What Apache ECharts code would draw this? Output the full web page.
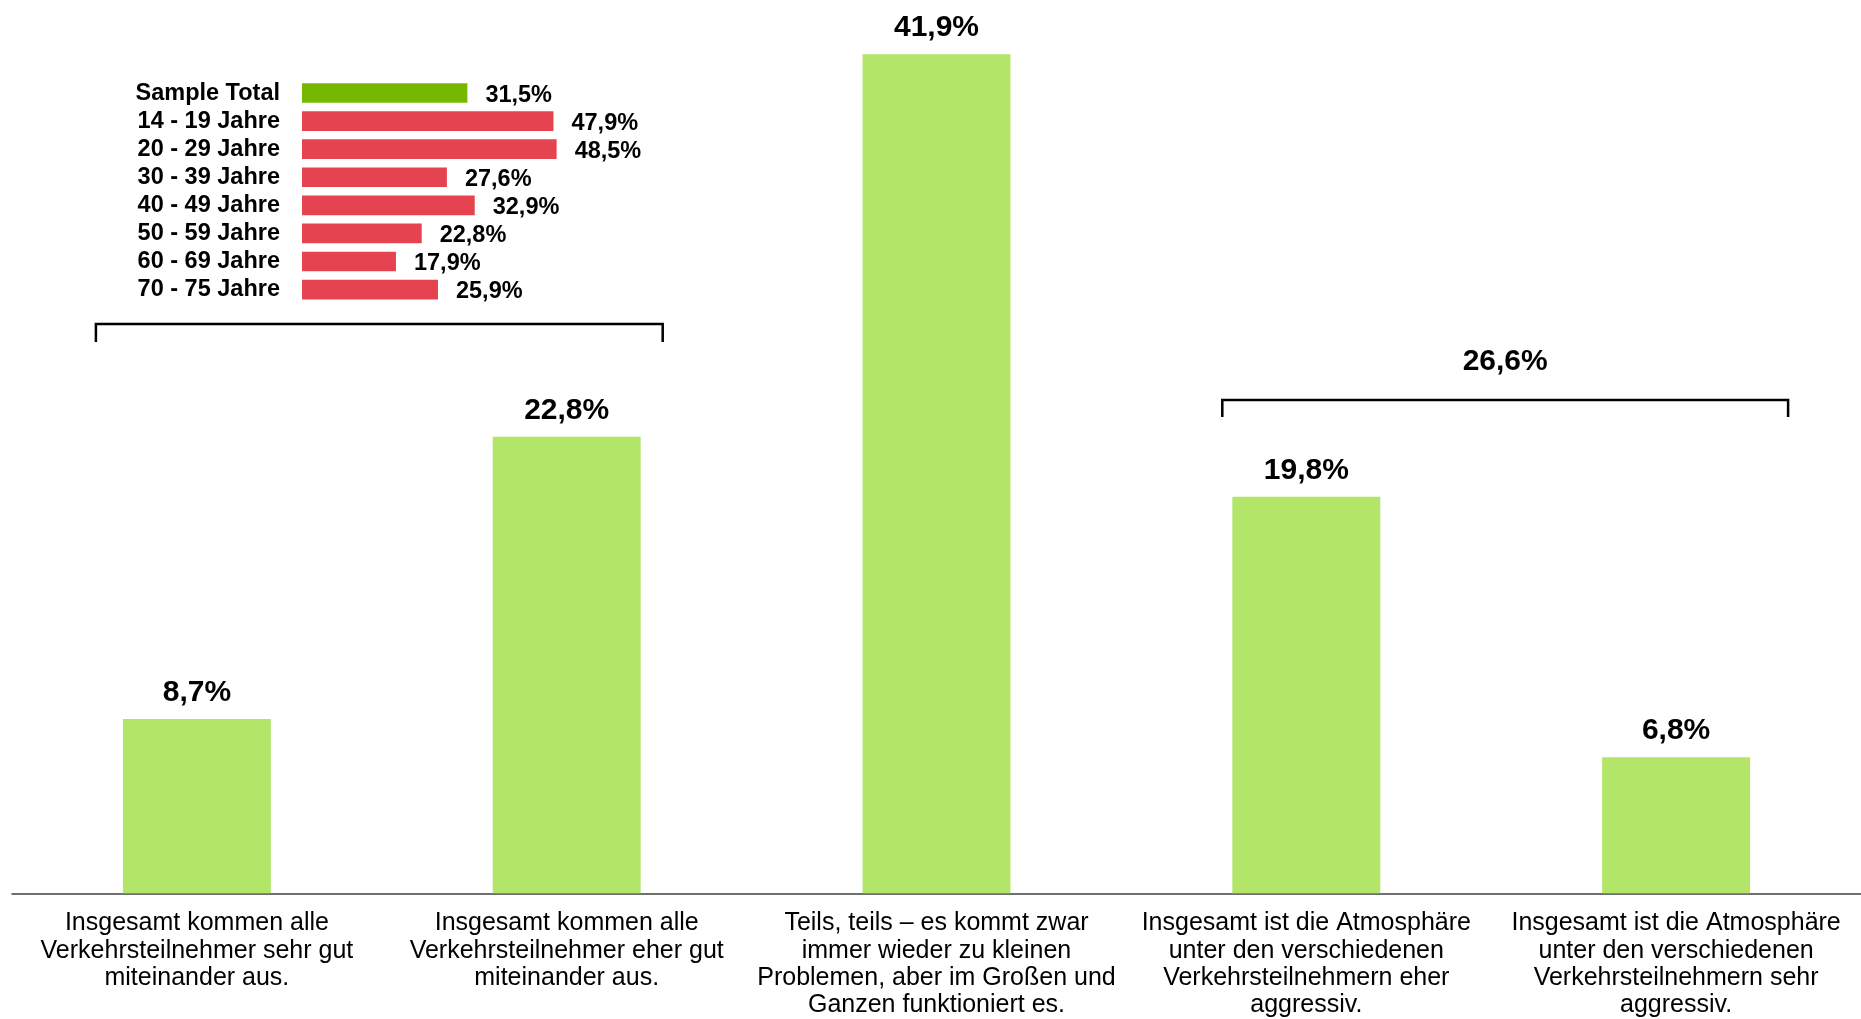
<!DOCTYPE html>
<html><head><meta charset="utf-8">
<script src="https://cdn.jsdelivr.net/npm/echarts@6/dist/echarts.min.js"></script>
<style>html,body{margin:0;padding:0;background:#fff}#chart{width:1861px;height:1019px}</style>
</head><body><div id="chart"></div>
<script>
// ---- data ----
const categories = [
  'Insgesamt kommen alle\nVerkehrsteilnehmer sehr gut\nmiteinander aus.',
  'Insgesamt kommen alle\nVerkehrsteilnehmer eher gut\nmiteinander aus.',
  'Teils, teils – es kommt zwar\nimmer wieder zu kleinen\nProblemen, aber im Großen und\nGanzen funktioniert es.',
  'Insgesamt ist die Atmosphäre\nunter den verschiedenen\nVerkehrsteilnehmern eher\naggressiv.',
  'Insgesamt ist die Atmosphäre\nunter den verschiedenen\nVerkehrsteilnehmern sehr\naggressiv.'
];
const values = [8.7, 22.8, 41.9, 19.8, 6.8];

const ageGroups = ['Sample Total', '14 - 19 Jahre', '20 - 29 Jahre', '30 - 39 Jahre',
  '40 - 49 Jahre', '50 - 59 Jahre', '60 - 69 Jahre', '70 - 75 Jahre'];
const ageValues = [31.5, 47.9, 48.5, 27.6, 32.9, 22.8, 17.9, 25.9];

const bracketRanges = [[0, 1], [3, 4]];
const bracketTotals = [null, 26.6];

// ---- layout / style ----
const FONT = '"Liberation Sans", Arial, sans-serif';
const bracketLayout = [
  { y: 324, leg: 18, padL: -101, padR: 96 },
  { y: 400, leg: 17, padL: -84, padR: 112 }
];
const fmt = v => v.toFixed(1).replace('.', ',') + '%';

const chart = echarts.init(document.getElementById('chart'), null, { renderer: 'canvas' });
chart.setOption({
  animation: false,
  backgroundColor: '#fff',
  textStyle: { fontFamily: FONT },
  grid: [
    { left: 12, right: 0, top: 0, bottom: 120.5 },
    { left: 302, top: 79, width: 262.5, height: 224.6 }
  ],
  xAxis: [
    {
      type: 'category', gridIndex: 0, data: categories,
      axisLine: { lineStyle: { color: '#404040', width: 1.5 } },
      axisTick: { show: false },
      axisLabel: { interval: 0, fontSize: 25, lineHeight: 27.3, color: '#000', margin: 16.5, fontFamily: FONT }
    },
    { type: 'value', gridIndex: 1, min: 0, max: 50, show: false }
  ],
  yAxis: [
    { type: 'value', gridIndex: 0, min: 0, max: 44.61, show: false },
    {
      type: 'category', gridIndex: 1, inverse: true, data: ageGroups,
      axisLine: { show: false }, axisTick: { show: false },
      axisLabel: { interval: 0, fontSize: 23.5, fontWeight: 'bold', color: '#000', margin: 22, fontFamily: FONT }
    }
  ],
  series: [
    {
      type: 'bar', xAxisIndex: 0, yAxisIndex: 0, data: values, barWidth: '40%',
      itemStyle: { color: '#b2e568' },
      label: { show: true, position: 'top', distance: 11.5, fontSize: 30, fontWeight: 'bold',
        color: '#000', fontFamily: FONT, formatter: p => fmt(p.value) }
    },
    {
      type: 'bar', xAxisIndex: 1, yAxisIndex: 1, barWidth: '70%',
      data: ageValues.map((v, i) => ({ value: v, itemStyle: { color: i === 0 ? '#76b800' : '#e64350' } })),
      label: { show: true, position: 'right', distance: 18, fontSize: 23.5, fontWeight: 'bold',
        color: '#000', fontFamily: FONT, offset: [0, 2], formatter: p => fmt(p.value) }
    },
    {
      type: 'custom', xAxisIndex: 0, yAxisIndex: 0, silent: true,
      encode: { x: [0, 1] },
      data: bracketRanges,
      renderItem: (params, api) => {
        const i = params.dataIndex;
        const L = bracketLayout[i];
        const x1 = api.coord([api.value(0), 0])[0] + L.padL;
        const x2 = api.coord([api.value(1), 0])[0] + L.padR;
        const children = [{
          type: 'polyline',
          shape: { points: [[x1, L.y + L.leg], [x1, L.y], [x2, L.y], [x2, L.y + L.leg]] },
          style: { stroke: '#000', lineWidth: 2.5, fill: null }
        }];
        if (bracketTotals[i] != null) {
          children.push({
            type: 'text',
            style: { x: (x1 + x2) / 2, y: L.y - 38, text: fmt(bracketTotals[i]),
              align: 'center', verticalAlign: 'middle', fill: '#000',
              font: 'bold 30px ' + FONT }
          });
        }
        return { type: 'group', children };
      }
    }
  ]
});
</script>
</body></html>
